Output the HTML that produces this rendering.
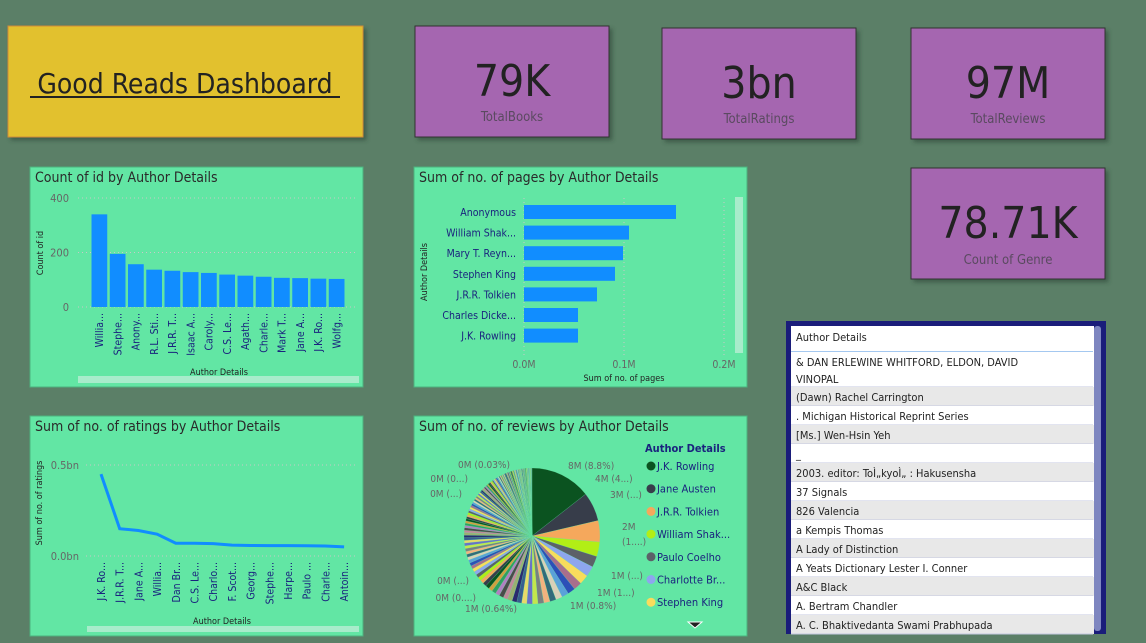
<!DOCTYPE html>
<html><head><meta charset="utf-8"><style>
body{margin:0;width:1146px;height:643px;background:#5b7f67;overflow:hidden;font-family:"Liberation Sans",sans-serif}
svg{display:block}
text{font-family:"DejaVu Sans Condensed","Liberation Sans",sans-serif}
</style></head><body>
<svg id="s" width="1146" height="643" xmlns="http://www.w3.org/2000/svg">
<defs><filter id="sh" x="-10%" y="-10%" width="130%" height="130%"><feDropShadow dx="3" dy="3" stdDeviation="2" flood-color="#2e4a38" flood-opacity="0.6"/></filter></defs>
<g>
<rect x="8" y="26" width="355" height="111" fill="#e2c12f" stroke="#d08a3a" stroke-width="1" filter="url(#sh)"/>
<text x="185" y="93" font-size="28" text-anchor="middle" fill="#222">Good  Reads Dashboard</text>
<line x1="30" y1="97" x2="340" y2="97" stroke="#222" stroke-width="2"/>
</g>
<g><rect x="415" y="26" width="194" height="111" fill="#a566b0" stroke="#333" filter="url(#sh)"/><text x="512" y="96" font-size="44" text-anchor="middle" fill="#222">79K</text><text x="512" y="121" font-size="13" text-anchor="middle" fill="#5a4a60">TotalBooks</text></g>
<g><rect x="662" y="28" width="194" height="111" fill="#a566b0" stroke="#333" filter="url(#sh)"/><text x="759" y="98" font-size="44" text-anchor="middle" fill="#222">3bn</text><text x="759" y="123" font-size="13" text-anchor="middle" fill="#5a4a60">TotalRatings</text></g>
<g><rect x="911" y="28" width="194" height="111" fill="#a566b0" stroke="#333" filter="url(#sh)"/><text x="1008" y="98" font-size="44" text-anchor="middle" fill="#222">97M</text><text x="1008" y="123" font-size="13" text-anchor="middle" fill="#5a4a60">TotalReviews</text></g>
<g><rect x="911" y="168" width="194" height="111" fill="#a566b0" stroke="#333" filter="url(#sh)"/><text x="1008" y="238" font-size="44" text-anchor="middle" fill="#222">78.71K</text><text x="1008" y="264" font-size="13" text-anchor="middle" fill="#5a4a60">Count of Genre</text></g>

<g id="c1">
<rect x="30" y="167" width="333" height="220" fill="#62e6a4" stroke="#4cb27e"/>
<text x="35" y="182" font-size="14" fill="#2a2a2a">Count of id by Author Details</text>
<text transform="translate(43,253) rotate(-90)" font-size="9" text-anchor="middle" fill="#222">Count of id</text>
<text x="219" y="375" font-size="9" text-anchor="middle" fill="#222">Author Details</text>
<rect x="78" y="376" width="281" height="7" fill="#a8eccb"/>
</g>
<g id="c2">
<rect x="414" y="167" width="333" height="220" fill="#62e6a4" stroke="#4cb27e"/>
<text x="419" y="182" font-size="14" fill="#2a2a2a">Sum of no. of pages by Author Details</text>
<text transform="translate(427,272) rotate(-90)" font-size="9" text-anchor="middle" fill="#222">Author Details</text>
<text x="624" y="381" font-size="9" text-anchor="middle" fill="#222">Sum of no. of pages</text>
<rect x="735" y="197" width="8" height="156" fill="#a8eccb"/>
</g>
<g id="c3">
<rect x="30" y="416" width="333" height="220" fill="#62e6a4" stroke="#4cb27e"/>
<text x="35" y="431" font-size="14" fill="#2a2a2a">Sum of no. of ratings by Author Details</text>
<text transform="translate(42,503) rotate(-90)" font-size="9" text-anchor="middle" fill="#222">Sum of no. of ratings</text>
<text x="222" y="624" font-size="9" text-anchor="middle" fill="#222">Author Details</text>
<rect x="87" y="626" width="272" height="6" fill="#a8eccb"/>
</g>
<g id="c4">
<rect x="414" y="416" width="333" height="220" fill="#62e6a4" stroke="#4cb27e"/>
<text x="419" y="431" font-size="14" fill="#2a2a2a">Sum of no. of reviews by Author Details</text>
<text x="645" y="452" font-size="11" font-weight="bold" fill="#1a237e">Author Details</text>
<path d="M688,622 l14,0 l-7,6 z" fill="#222" stroke="#fff"/>
</g>
<g>
<rect x="786" y="321" width="320" height="313" fill="#1a1d7a"/>
<rect x="791" y="326" width="303" height="305" fill="#fff"/>
<rect x="1094" y="326" width="7" height="305" rx="3" fill="#7e86c0"/>
<g id="tb"></g>
</g>
</svg>
<script>
const NS="http://www.w3.org/2000/svg";
function mk(p,t,a,txt){const e=document.createElementNS(NS,t);for(const k in a)e.setAttribute(k,a[k]);if(txt!==undefined)e.textContent=txt;p.appendChild(e);return e;}
// chart 1
const c1Cats=["Willia...","Stephe...","Anony...","R.L. Sti...","J.R.R. T...","Isaac A...","Caroly...","C.S. Le...","Agath...","Charle...","Mark T...","Jane A...","J.K. Ro...","Wolfg..."];
const c1Vals=[340,195,157,137,133,128,125,119,115,111,107,106,104,103];
const c1Ticks=[0,200,400];
// chart 2
const c2Cats=["Anonymous","William Shak...","Mary T. Reyn...","Stephen King","J.R.R. Tolkien","Charles Dicke...","J.K. Rowling"];
const c2Vals=[0.152,0.105,0.099,0.091,0.073,0.054,0.054];
const c2Ticks=[0,0.1,0.2];
const c2TickLabels=["0.0M","0.1M","0.2M"];
// chart 3
const c3Cats=["J.K. Ro...","J.R.R. T...","Jane A...","Willia...","Dan Br...","C.S. Le...","Charlo...","F. Scot...","Georg...","Stephe...","Harpe...","Paulo ...","Charle...","Antoin..."];
const c3Vals=[0.45,0.15,0.14,0.12,0.07,0.07,0.068,0.06,0.058,0.057,0.057,0.056,0.055,0.05];
const c3Ticks=[0,0.5];
const c3TickLabels=["0.0bn","0.5bn"];
// chart 4
const pieVals=[8.8,4.2,3.1,2.1,1.6,1.5,1.4,1.2,1.1,1.0,0.95,0.9,0.9,0.85,0.8,0.8,0.75,0.7,0.7,0.68,0.66,0.64,0.62,0.6,0.58,0.56,0.55,0.54,0.52,0.5,0.5,0.48,0.47,0.46,0.45,0.44,0.43,0.42,0.41,0.4,0.4,0.39,0.38,0.37,0.36,0.36,0.35,0.34,0.33,0.33,0.32,0.31,0.3,0.3,0.29,0.28,0.28,0.27,0.27,0.26,0.26,0.25,0.25,0.24,0.24,0.23,0.23,0.22,0.22,0.21,0.21,0.2,0.2,0.2,0.19,0.19,0.18,0.18,0.18,0.17,0.17,0.17,0.16,0.16,0.16,0.15,0.15,0.15,0.14,0.14,0.14,0.13,0.13,0.13,0.12,0.12,0.12,0.12,0.11,0.11,0.11,0.11,0.1,0.1,0.1,0.1,0.1,0.09,0.09,0.09,0.09,0.09,0.08,0.08,0.08,0.08,0.08,0.08,0.07,0.07,0.07,0.07,0.07,0.07,0.07,0.06,0.06,0.06,0.06,0.06,0.06,0.06,0.06,0.05,0.05,0.05,0.05,0.05,0.05,0.05,0.05,0.05,0.05];
const pieColors=["#0b5320","#373d4a","#f5a85c","#b2ee16","#5c6168","#8ea6ee","#f9dc5c","#a86e8c","#2c4fb8","#5aa1d9","#d8d0b8","#336a7a","#f3b27f","#7a8080","#c4e64c","#6a70c8","#e8d86a","#385e90","#2b2b6e","#9ab070","#c08a9a","#4a4a4a","#b080c0","#30a060","#d0a040"];
const legendNames=["J.K. Rowling","Jane Austen","J.R.R. Tolkien","William Shak...","Paulo Coelho","Charlotte Br...","Stephen King"];
const tableRows=["& DAN ERLEWINE WHITFORD, ELDON, DAVID|VINOPAL","(Dawn) Rachel Carrington",". Michigan Historical Reprint Series","[Ms.] Wen-Hsin Yeh","_","2003. editor: ToÌ„kyoÌ„ : Hakusensha","37 Signals","826 Valencia","a Kempis Thomas","A Lady of Distinction","A Yeats Dictionary Lester I. Conner","A&C Black","A. Bertram Chandler","A. C. Bhaktivedanta Swami Prabhupada"];

(function(){const g=document.getElementById('c1');const y0=307,y1=198,vmax=400;const ys=v=>y0-(v/vmax)*(y0-y1);
const xL=91,step=18.25;
c1Ticks.forEach(t=>{const l=mk(g,'line',{x1:78,x2:358,y1:ys(t),y2:ys(t),stroke:'#c8c8c8','stroke-dasharray':'1,3'});
const tx=mk(g,'text',{x:69,y:ys(t)+4,'font-size':11,'text-anchor':'end',fill:'#666'},t);});
c1Vals.forEach((v,i)=>{const x=xL+i*step;const r=mk(g,'rect',{x:x+0.5,y:ys(v),width:step-2.5,height:y0-ys(v),fill:'#118dff'});
const cx=x+step/2+3;const t=mk(g,'text',{transform:`translate(${cx},313) rotate(-90)`,'font-size':10.5,'text-anchor':'end',fill:'#1a237e'},c1Cats[i]);});
})();
(function(){const g=document.getElementById('c2');const x0=524,x1=624;const xs=v=>x0+v/0.1*(x1-x0);
c2Ticks.forEach((t,i)=>{const l=mk(g,'line',{x1:xs(t),x2:xs(t),y1:198,y2:355,stroke:'#c8c8c8','stroke-dasharray':'1,3'});
const tx=mk(g,'text',{x:xs(t),y:368,'font-size':10.5,'text-anchor':'middle',fill:'#666'},c2TickLabels[i]);});
c2Vals.forEach((v,i)=>{const cy=212+i*20.6;const r=mk(g,'rect',{x:x0,y:cy-7,width:xs(v)-x0,height:14,fill:'#118dff'});
const t=mk(g,'text',{x:516,y:cy+4,'font-size':10.5,'text-anchor':'end',fill:'#1a237e'},c2Cats[i]);});
})();
(function(){const g=document.getElementById('c3');const y0=556,y1=465;const ys=v=>y0-v/0.5*(y0-y1);const xL=101,step=18.7;
c3Ticks.forEach((t,i)=>{const l=mk(g,'line',{x1:86,x2:358,y1:ys(t),y2:ys(t),stroke:'#c8c8c8','stroke-dasharray':'1,3'});
const tx=mk(g,'text',{x:79,y:ys(t)+4,'font-size':11,'text-anchor':'end',fill:'#666'},c3TickLabels[i]);});
const pts=c3Vals.map((v,i)=>(xL+i*step)+','+ys(v)).join(' ');
const pl=mk(g,'polyline',{points:pts,fill:'none',stroke:'#118dff','stroke-width':3});
c3Cats.forEach((c,i)=>{const t=mk(g,'text',{transform:`translate(${xL+i*step+4},562) rotate(-90)`,'font-size':10.5,'text-anchor':'end',fill:'#1a237e'},c);});
})();
(function(){const g=document.getElementById('c4');const cx=532,cy=536,r=68;const tot=pieVals.reduce((a,b)=>a+b,0);let a=-Math.PI/2;
pieVals.forEach((v,i)=>{const a2=a+v/tot*2*Math.PI;const p=`M${cx},${cy} L${cx+r*Math.cos(a)},${cy+r*Math.sin(a)} A${r},${r} 0 ${a2-a>Math.PI?1:0} 1 ${cx+r*Math.cos(a2)},${cy+r*Math.sin(a2)} Z`;
const s=mk(g,'path',{d:p,fill:pieColors[i%pieColors.length],stroke:'#62e6a4','stroke-width':0.2});a=a2;});
const labels=[[568,469,'start','8M (8.8%)'],[595,482,'start','4M (4...)'],[610,498,'start','3M (...)'],[622,530,'start','2M'],[622,545,'start','(1....)'],[611,579,'start','1M (...)'],[597,596,'start','1M (1...)'],[570,609,'start','1M (0.8%)'],[517,612,'end','1M (0.64%)'],[476,601,'end','0M (0....)'],[469,584,'end','0M (...)'],[462,497,'end','0M (...)'],[468,482,'end','0M (0...)'],[510,468,'end','0M (0.03%)']];
labels.forEach(l=>{const t=mk(g,'text',{x:l[0],y:l[1],'font-size':10,'text-anchor':l[2],fill:'#666'},l[3]);});
legendNames.forEach((n,i)=>{const y=467+i*22.7;const c=mk(g,'circle',{cx:651,cy:y-1,r:4.5,fill:pieColors[i]});
const t=mk(g,'text',{x:657,y:y+3,'font-size':11,fill:'#1a237e'},n);});
})();
(function(){const g=document.getElementById('tb');let t=mk(g,'text',{x:796,y:341,'font-size':11,fill:'#222'},'Author Details');
mk(g,'line',{x1:791,x2:1093,y1:352,y2:352,stroke:'#4a90e2'});
let y=352;tableRows.forEach((r,i)=>{const lines=r.split('|');const h=lines.length>1?35:19;const bg=mk(g,'rect',{x:791,y:y,width:303,height:h,fill:i%2?'#e8e8e8':'#fff'});
mk(g,'line',{x1:791,x2:1093,y1:y+h,y2:y+h,stroke:'#c5c8e0'});
lines.forEach((ln,j)=>{const tx=mk(g,'text',{x:796,y:y+14+j*17,'font-size':11,fill:'#222'},ln);});y+=h;});
})();
</script>
</body></html>
